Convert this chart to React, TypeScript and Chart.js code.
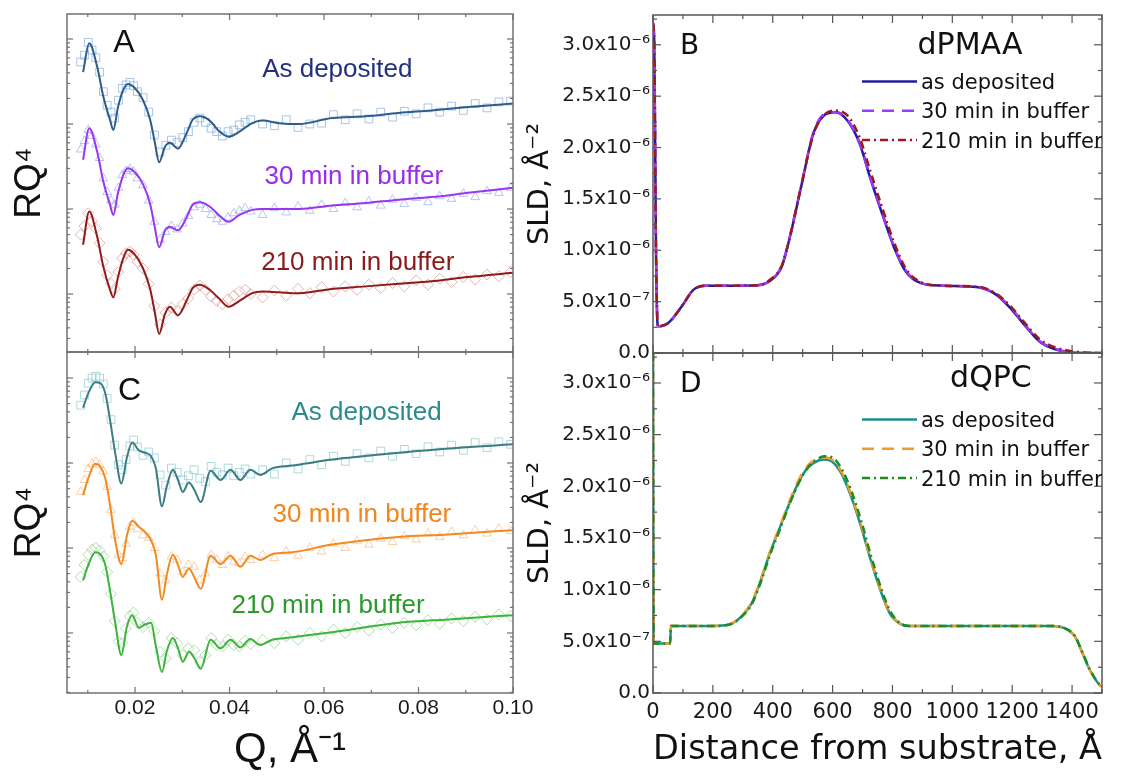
import React, { useEffect, useRef } from "react";
import { Chart, registerables } from "chart.js";
Chart.register(...registerables);

const W = 1121;
const H = 776;
const SANS = "'Liberation Sans', Arial, sans-serif";
const DEJAVU = "'DejaVu Sans', sans-serif";

// ---------------- Panels A / C : reflectivity (values stored as log10 of RQ^4, arbitrary units) ----------------
const qMeasured = [0.0085, 0.0093, 0.0101, 0.0109, 0.0117, 0.0125, 0.0133, 0.0141, 0.0149, 0.0157, 0.0165, 0.0173, 0.0181, 0.0189, 0.0197, 0.0205,
  0.0217, 0.0229, 0.0241, 0.0253, 0.0265, 0.0277, 0.0289, 0.0301, 0.0313, 0.0325, 0.0337, 0.0349, 0.0361, 0.0373, 0.0385, 0.0397, 0.0409, 0.0421, 0.0433, 0.0445,
  0.047, 0.0495, 0.052, 0.0545, 0.057, 0.0595, 0.062, 0.0645, 0.067, 0.0695, 0.072, 0.0745, 0.077, 0.0795, 0.082, 0.0845, 0.087, 0.0895, 0.092, 0.0945, 0.097, 0.0995];

const measA1Log = [2.73, 2.81, 2.96, 2.87, 2.78, 2.61, 2.38, 2.22, 2.14, 2.07, 2.28, 2.42, 2.46, 2.49, 2.45, 2.38, 2.31, 2.14, 1.87, 1.67, 1.75, 1.81, 1.78, 1.84, 1.91, 2.02, 2.07, 2.02, 1.95, 1.91, 1.86, 1.91, 1.93, 1.99, 2.02, 2.05, 2.00, 1.98, 2.05, 1.96, 2.00, 2.01, 2.11, 2.05, 2.12, 2.06, 2.14, 2.08, 2.15, 2.12, 2.19, 2.14, 2.21, 2.16, 2.24, 2.19, 2.26, 2.27];
const measA2Log = [1.70, 1.80, 1.93, 1.86, 1.76, 1.60, 1.36, 1.20, 1.10, 1.05, 1.25, 1.40, 1.45, 1.47, 1.44, 1.36, 1.28, 1.10, 0.85, 0.64, 0.73, 0.80, 0.76, 0.83, 0.92, 1.02, 1.05, 1.00, 0.93, 0.88, 0.85, 0.90, 0.95, 0.98, 1.01, 0.97, 0.93, 1.01, 0.96, 1.03, 0.98, 1.05, 1.00, 1.07, 1.02, 1.09, 1.04, 1.11, 1.06, 1.13, 1.08, 1.15, 1.12, 1.18, 1.14, 1.21, 1.19, 1.25];
const measA3Log = [0.70, 0.80, 0.95, 0.86, 0.77, 0.60, 0.38, 0.22, 0.12, 0.06, 0.26, 0.42, 0.48, 0.50, 0.46, 0.38, 0.30, 0.12, -0.14, -0.36, -0.22, -0.16, -0.20, -0.12, -0.05, 0.05, 0.10, 0.05, -0.03, -0.08, -0.12, -0.06, -0.02, 0.03, 0.05, 0.00, -0.04, 0.04, -0.02, 0.06, 0.01, 0.08, 0.03, 0.09, 0.05, 0.11, 0.07, 0.13, 0.09, 0.16, 0.11, 0.18, 0.14, 0.20, 0.17, 0.23, 0.21, 0.26];

const qFitA = [0.0090, 0.0103, 0.0120, 0.0133, 0.0147, 0.0154, 0.0164, 0.0175, 0.0185, 0.0200, 0.0217, 0.0232, 0.0242, 0.0251, 0.0263, 0.0274, 0.0291, 0.0309, 0.0322, 0.0337, 0.0358, 0.0379, 0.0398, 0.0421, 0.0448, 0.0469, 0.0505, 0.0547, 0.0617, 0.0688, 0.0758, 0.0827, 0.0905, 0.1000];
const fitA1Log = [2.61, 2.95, 2.67, 2.32, 2.05, 1.93, 2.20, 2.40, 2.47, 2.42, 2.28, 2.05, 1.78, 1.55, 1.73, 1.78, 1.71, 1.89, 2.05, 2.09, 2.04, 1.91, 1.85, 1.91, 2.01, 2.04, 2.01, 2.00, 2.07, 2.09, 2.13, 2.16, 2.20, 2.24];
const fitA2Log = [1.58, 1.95, 1.67, 1.32, 1.05, 0.93, 1.19, 1.40, 1.48, 1.43, 1.29, 1.06, 0.78, 0.55, 0.74, 0.79, 0.75, 0.90, 1.05, 1.08, 1.03, 0.92, 0.85, 0.93, 0.99, 1.00, 1.00, 1.00, 1.04, 1.07, 1.11, 1.14, 1.19, 1.25];
const fitA3Log = [0.58, 0.97, 0.67, 0.32, 0.05, -0.04, 0.20, 0.42, 0.52, 0.46, 0.30, 0.06, -0.22, -0.47, -0.24, -0.15, -0.25, -0.08, 0.07, 0.11, 0.05, -0.06, -0.15, -0.08, 0.01, 0.03, 0.02, 0.01, 0.06, 0.09, 0.12, 0.15, 0.20, 0.25];

const measC1Log = [2.68, 2.80, 2.94, 3.00, 3.02, 3.00, 2.93, 2.76, 2.51, 2.21, 1.98, 1.92, 2.04, 2.20, 2.27, 2.19, 2.09, 2.13, 2.06, 1.86, 1.74, 1.94, 1.89, 1.80, 1.85, 1.92, 1.82, 1.78, 1.96, 1.89, 1.86, 1.94, 1.85, 1.89, 1.93, 1.87, 1.92, 1.87, 2.00, 1.93, 2.04, 1.98, 2.08, 2.02, 2.11, 2.06, 2.14, 2.08, 2.16, 2.11, 2.19, 2.13, 2.21, 2.15, 2.24, 2.18, 2.25, 2.22];
const measC2Log = [1.66, 1.80, 1.93, 1.99, 2.01, 1.98, 1.90, 1.72, 1.45, 1.15, 0.92, 0.88, 1.05, 1.25, 1.30, 1.22, 1.15, 1.12, 1.00, 0.70, 0.62, 0.90, 0.86, 0.72, 0.80, 0.78, 0.62, 0.70, 0.92, 0.86, 0.80, 0.90, 0.84, 0.82, 0.90, 0.86, 0.92, 0.88, 0.96, 0.91, 1.00, 0.96, 1.05, 1.00, 1.08, 1.04, 1.11, 1.07, 1.14, 1.10, 1.17, 1.13, 1.19, 1.15, 1.21, 1.17, 1.23, 1.20];
const measC3Log = [0.66, 0.80, 0.92, 0.98, 1.00, 0.97, 0.90, 0.72, 0.46, 0.14, -0.10, -0.12, 0.05, 0.20, 0.24, 0.12, 0.07, 0.12, 0.02, -0.22, -0.30, -0.06, -0.12, -0.26, -0.18, -0.20, -0.34, -0.26, -0.06, -0.14, -0.16, -0.08, -0.14, -0.16, -0.09, -0.13, -0.08, -0.12, -0.04, -0.08, 0.00, -0.04, 0.04, 0.00, 0.07, 0.03, 0.10, 0.06, 0.12, 0.09, 0.15, 0.11, 0.17, 0.14, 0.19, 0.16, 0.22, 0.20];

const qFitC = [0.0090, 0.0101, 0.0116, 0.0126, 0.0137, 0.0147, 0.0158, 0.0171, 0.0183, 0.0194, 0.0208, 0.0221, 0.0234, 0.0244, 0.0257, 0.0267, 0.0280, 0.0291, 0.0301, 0.0314, 0.0326, 0.0339, 0.0360, 0.0381, 0.0402, 0.0423, 0.0444, 0.0465, 0.0491, 0.0533, 0.0617, 0.0758, 0.0863, 0.1000];
const fitC1Log = [2.65, 2.82, 2.95, 2.94, 2.82, 2.51, 2.12, 1.76, 2.07, 2.24, 2.15, 2.12, 2.08, 1.94, 1.49, 1.72, 1.92, 1.80, 1.66, 1.77, 1.68, 1.54, 1.91, 1.80, 1.92, 1.80, 1.92, 1.86, 1.94, 1.97, 2.04, 2.12, 2.17, 2.22];
const fitC2Log = [1.62, 1.82, 1.99, 1.96, 1.82, 1.51, 1.09, 0.81, 1.15, 1.32, 1.25, 1.19, 1.09, 0.92, 0.39, 0.68, 0.92, 0.80, 0.66, 0.76, 0.65, 0.52, 0.91, 0.81, 0.91, 0.78, 0.91, 0.86, 0.93, 0.95, 1.04, 1.13, 1.16, 1.21];
const fitC3Log = [0.62, 0.80, 0.95, 0.93, 0.80, 0.50, 0.12, -0.26, 0.08, 0.21, 0.06, 0.10, 0.12, -0.15, -0.46, -0.22, -0.06, -0.18, -0.34, -0.22, -0.30, -0.42, -0.08, -0.18, -0.08, -0.17, -0.07, -0.14, -0.08, -0.05, 0.01, 0.12, 0.16, 0.21];

// ---------------- Panels B / D : SLD profiles (values in units of 1e-6 Å^-2) ----------------
const zB = [0, 4, 10, 16, 50, 95, 135, 175, 250, 350, 390, 430, 455, 495, 535, 570, 610, 650, 690, 725, 765, 805, 845, 895, 970, 1085, 1140, 1190, 1240, 1290, 1330, 1385, 1440, 1500];
const sldB1 = [3.21, 3.05, 1.0, 0.26, 0.29, 0.45, 0.615, 0.654, 0.655, 0.66, 0.70, 0.84, 1.10, 1.62, 2.13, 2.31, 2.343, 2.26, 2.04, 1.71, 1.36, 1.03, 0.79, 0.68, 0.655, 0.64, 0.58, 0.45, 0.276, 0.114, 0.05, 0.01, 0.0, 0.0];
const sldB2 = [3.21, 3.05, 1.0, 0.26, 0.29, 0.45, 0.615, 0.654, 0.655, 0.66, 0.70, 0.85, 1.11, 1.63, 2.14, 2.32, 2.345, 2.27, 2.05, 1.72, 1.37, 1.04, 0.80, 0.68, 0.655, 0.64, 0.58, 0.46, 0.285, 0.12, 0.055, 0.012, 0.0, 0.0];
const sldB3 = [3.21, 3.05, 1.0, 0.26, 0.29, 0.45, 0.615, 0.654, 0.655, 0.66, 0.71, 0.85, 1.10, 1.62, 2.12, 2.31, 2.36, 2.31, 2.10, 1.78, 1.42, 1.08, 0.82, 0.69, 0.655, 0.645, 0.59, 0.47, 0.30, 0.14, 0.07, 0.025, 0.005, 0.0];

const zD = [0, 2, 5, 57, 60, 100, 200, 240, 265, 295, 330, 360, 390, 425, 455, 490, 520, 553, 572, 598, 630, 662, 695, 727, 759, 791, 823, 855, 1000, 1200, 1330, 1383, 1410, 1435, 1460, 1492, 1500];
const sldD1 = [3.29, 0.48, 0.48, 0.48, 0.648, 0.648, 0.648, 0.655, 0.674, 0.74, 0.87, 1.09, 1.35, 1.61, 1.83, 2.06, 2.19, 2.25, 2.26, 2.24, 2.12, 1.90, 1.61, 1.29, 1.00, 0.77, 0.674, 0.648, 0.648, 0.648, 0.648, 0.616, 0.545, 0.384, 0.22, 0.077, 0.06];
const sldD2 = [3.29, 0.48, 0.48, 0.48, 0.648, 0.648, 0.648, 0.655, 0.675, 0.745, 0.88, 1.10, 1.36, 1.62, 1.85, 2.08, 2.21, 2.27, 2.28, 2.26, 2.14, 1.92, 1.63, 1.30, 1.01, 0.78, 0.676, 0.648, 0.648, 0.648, 0.648, 0.616, 0.545, 0.385, 0.222, 0.078, 0.06];
const sldD3 = [3.29, 0.48, 0.48, 0.48, 0.648, 0.648, 0.648, 0.655, 0.672, 0.735, 0.86, 1.07, 1.33, 1.59, 1.82, 2.05, 2.19, 2.27, 2.29, 2.28, 2.17, 1.96, 1.67, 1.34, 1.04, 0.80, 0.68, 0.649, 0.648, 0.648, 0.648, 0.618, 0.55, 0.39, 0.225, 0.08, 0.062];

// ---------------- Tick labels / series labels ----------------
const qTicks = [0.02, 0.04, 0.06, 0.08, 0.1];
const distTicks = [0, 200, 400, 600, 800, 1000, 1200, 1400];
const sldTicks = [0, 0.5e-6, 1.0e-6, 1.5e-6, 2.0e-6, 2.5e-6, 3.0e-6];
const seriesNames = ["as deposited", "30 min in buffer", "210 min in buffer"];
const reflNames = ["As deposited", "30 min in buffer", "210 min in buffer"];

const SLD_UNIT = 1e-6;
const SUP: Record<string, string> = { "-": "⁻", "0": "⁰", "1": "¹", "2": "²", "3": "³", "4": "⁴", "5": "⁵", "6": "⁶", "7": "⁷", "8": "⁸", "9": "⁹" };
const sup = (n: number) => String(n).split("").map((c) => SUP[c] ?? c).join("");
function sciLabel(v: number) {
  if (Math.abs(v) < 1e-15) return "0.0";
  const e = Math.floor(Math.log10(v) + 1e-9);
  return `${(v / Math.pow(10, e)).toFixed(1)}x10${sup(e)}`;
}
const pts = (xs: number[], ys: number[], f: (v: number) => number) => xs.map((x, i) => ({ x, y: f(ys[i]) }));
const fromLog = (v: number) => Math.pow(10, v);
const fromUnit = (v: number) => v * SLD_UNIT;

// ---------------- Plugins ----------------
const frameTicks = {
  id: "frameTicks",
  afterDatasetsDraw(chart: any, _a: any, o: any) {
    const { ctx, chartArea: a, scales } = chart;
    const xs = scales.x;
    const ys = scales.y;
    ctx.save();
    ctx.strokeStyle = o.color;
    ctx.lineWidth = 1.5;
    ctx.strokeRect(a.left, a.top, a.right - a.left, a.bottom - a.top);
    ctx.lineWidth = 1.2;
    const seg = (x1: number, y1: number, x2: number, y2: number) => {
      ctx.beginPath();
      ctx.moveTo(x1, y1);
      ctx.lineTo(x2, y2);
      ctx.stroke();
    };
    const n0 = Math.ceil(xs.min / o.xMinor - 1e-6);
    const n1 = Math.floor(xs.max / o.xMinor + 1e-6);
    const rx = Math.round(o.xMajor / o.xMinor);
    for (let i = n0; i <= n1; i++) {
      const px = xs.getPixelForValue(i * o.xMinor);
      const len = i % rx === 0 ? o.major : o.minor;
      seg(px, a.bottom, px, a.bottom - len);
      seg(px, a.top, px, a.top + len);
    }
    if (o.yLog) {
      const d0 = Math.floor(Math.log10(ys.min));
      const d1 = Math.ceil(Math.log10(ys.max));
      for (let d = d0; d <= d1; d++) {
        for (let k = 1; k <= 9; k++) {
          const v = k * Math.pow(10, d);
          if (v < ys.min || v > ys.max) continue;
          const py = ys.getPixelForValue(v);
          const len = k === 1 ? o.major : o.minor;
          seg(a.left, py, a.left + len, py);
          seg(a.right, py, a.right - len, py);
        }
      }
    } else {
      const m0 = Math.ceil(ys.min / o.yMinor - 1e-6);
      const m1 = Math.floor(ys.max / o.yMinor + 1e-6);
      const ry = Math.round(o.yMajor / o.yMinor);
      for (let i = m0; i <= m1; i++) {
        const py = ys.getPixelForValue(i * o.yMinor);
        const len = i % ry === 0 ? o.major : o.minor;
        seg(a.left, py, a.left + len, py);
        seg(a.right, py, a.right - len, py);
      }
    }
    ctx.restore();
  },
};

const panelText = {
  id: "panelText",
  afterDatasetsDraw(chart: any, _a: any, o: any) {
    const { ctx, scales } = chart;
    ctx.save();
    for (const it of o.items) {
      ctx.font = it.css;
      ctx.fillStyle = it.color;
      ctx.textAlign = it.align || "left";
      ctx.textBaseline = "alphabetic";
      ctx.fillText(it.text, scales.x.getPixelForValue(it.x), scales.y.getPixelForValue(it.y));
    }
    ctx.restore();
  },
};

const lineLegend = {
  id: "lineLegend",
  afterDatasetsDraw(chart: any, _a: any, o: any) {
    if (!o || !o.show) return;
    const { ctx, chartArea: a } = chart;
    ctx.save();
    ctx.beginPath();
    ctx.rect(a.left, a.top, a.right - a.left, a.bottom - a.top);
    ctx.clip();
    chart.data.datasets.forEach((ds: any, i: number) => {
      const yy = a.top + o.dy + i * o.rowGap;
      const x0 = a.left + o.dx;
      ctx.strokeStyle = ds.borderColor;
      ctx.lineWidth = ds.borderWidth;
      ctx.setLineDash(ds.borderDash || []);
      ctx.beginPath();
      ctx.moveTo(x0, yy);
      ctx.lineTo(x0 + o.sampleLen, yy);
      ctx.stroke();
      ctx.setLineDash([]);
      ctx.fillStyle = o.color;
      ctx.font = o.css;
      ctx.textAlign = "left";
      ctx.textBaseline = "alphabetic";
      ctx.fillText(ds.label, x0 + o.sampleLen + o.gap, yy + o.baseShift);
    });
    ctx.restore();
  },
};

// ---------------- Chart builders ----------------
type ReflSeries = { fit: number[]; meas: number[]; line: string; marker: string; style: string; radius: number };

function reflConfig(top: boolean, qFit: number[], series: ReflSeries[], yMinLog: number, yMaxLog: number, texts: any[]) {
  const datasets: any[] = [];
  series.forEach((s, i) => {
    datasets.push({
      label: reflNames[i] + " (fit)",
      data: pts(qFit, s.fit, fromLog),
      borderColor: s.line,
      borderWidth: 2,
      pointRadius: 0,
      cubicInterpolationMode: "monotone",
      fill: false,
      order: 0,
    });
  });
  series.forEach((s, i) => {
    datasets.push({
      label: reflNames[i],
      data: pts(qMeasured, s.meas, fromLog),
      showLine: false,
      borderColor: s.marker,
      backgroundColor: "rgba(0,0,0,0)",
      pointStyle: s.style,
      pointRadius: s.radius,
      pointBorderWidth: 1,
      pointBorderColor: s.marker,
      pointBackgroundColor: "rgba(0,0,0,0)",
      order: 1,
    });
  });
  return {
    type: "line",
    data: { datasets },
    options: {
      responsive: false,
      animation: false,
      devicePixelRatio: 1,
      events: [],
      layout: { padding: top ? { left: 0, top: 14, right: W - 513, bottom: H - 352 } : { left: 0, top: 352, right: W - 513, bottom: 0 } },
      scales: {
        x: {
          type: "linear",
          min: 0.0056,
          max: 0.1,
          grid: { display: false, drawTicks: false },
          border: { display: false },
          afterBuildTicks: (s: any) => {
            s.ticks = qTicks.map((v) => ({ value: v }));
          },
          ticks: {
            display: !top,
            padding: 3,
            autoSkip: false,
            maxRotation: 0,
            color: "#1a1a1a",
            font: { family: SANS, size: 21 },
            callback: (v: any) => Number(v).toFixed(2),
          },
          title: { display: !top, text: "Q, Å⁻¹", color: "#111", font: { family: SANS, size: 42 }, padding: { top: 0, bottom: 0 } },
          afterFit: (s: any) => {
            s.height = top ? 0 : H - 693;
          },
        },
        y: {
          type: "logarithmic",
          min: Math.pow(10, yMinLog),
          max: Math.pow(10, yMaxLog),
          grid: { display: false, drawTicks: false },
          border: { display: false },
          ticks: { display: false },
          title: { display: true, text: "RQ⁴", color: "#111", font: { family: SANS, size: 37 }, padding: { top: 8, bottom: 0 } },
          afterFit: (s: any) => {
            s.width = 67;
          },
        },
      },
      plugins: {
        legend: { display: false },
        tooltip: { enabled: false },
        frameTicks: { color: "#707070", xMinor: 0.01, xMajor: 0.02, yLog: true, major: 6, minor: 3 },
        panelText: { items: texts },
      },
    },
    plugins: [frameTicks, panelText],
  };
}

type SldSeries = { vals: number[]; color: string; dash: number[]; order: number };

function sldConfig(top: boolean, z: number[], series: SldSeries[], texts: any[]) {
  const datasets = series.map((s, i) => ({
    label: seriesNames[i],
    data: pts(z, s.vals, fromUnit),
    borderColor: s.color,
    borderWidth: 2.5,
    borderDash: s.dash,
    pointRadius: 0,
    cubicInterpolationMode: "monotone",
    fill: false,
    order: s.order,
  }));
  return {
    type: "line",
    data: { datasets },
    options: {
      responsive: false,
      animation: false,
      devicePixelRatio: 1,
      events: [],
      layout: { padding: top ? { left: 520, top: 14, right: W - 1102, bottom: H - 353 } : { left: 520, top: 353, right: W - 1102, bottom: 0 } },
      scales: {
        x: {
          type: "linear",
          min: 0,
          max: 1500,
          grid: { display: false, drawTicks: false },
          border: { display: false },
          afterBuildTicks: (s: any) => {
            s.ticks = distTicks.map((v) => ({ value: v }));
          },
          ticks: {
            display: !top,
            padding: 7,
            autoSkip: false,
            maxRotation: 0,
            color: "#1a1a1a",
            font: { family: DEJAVU, size: 21 },
            callback: (v: any) => String(Math.round(Number(v))),
          },
          title: { display: !top, text: "Distance from substrate, Å", align: "center", color: "#111", font: { family: DEJAVU, size: 34 }, padding: { top: 0, bottom: 5 } },
          afterFit: (s: any) => {
            s.height = top ? 0 : H - 693;
          },
        },
        y: {
          type: "linear",
          min: 0,
          max: 3.29e-6,
          grid: { display: false, drawTicks: false },
          border: { display: false },
          afterBuildTicks: (s: any) => {
            s.ticks = sldTicks.map((v) => ({ value: v }));
          },
          ticks: { padding: 3, autoSkip: false, color: "#1a1a1a", font: { family: DEJAVU, size: 20 }, callback: (v: any) => sciLabel(Number(v)) },
          title: { display: true, text: "SLD, Å⁻²", color: "#111", font: { family: DEJAVU, size: 29 }, padding: { top: 3, bottom: 0 } },
          afterFit: (s: any) => {
            s.width = 653 - 520;
          },
        },
      },
      plugins: {
        legend: { display: false },
        tooltip: { enabled: false },
        frameTicks: { color: "#555555", xMinor: 100, xMajor: 200, yMinor: 0.25e-6, yMajor: 0.5e-6, yLog: false, major: 8, minor: 4 },
        panelText: { items: texts },
        lineLegend: { show: true, dx: 209, dy: 66.5, rowGap: 29.3, sampleLen: 55, gap: 4, baseShift: 7.5, color: "#111", css: `21px ${DEJAVU}` },
      },
    },
    plugins: [frameTicks, panelText, lineLegend],
  };
}

const makeA = () =>
  reflConfig(
    true,
    qFitA,
    [
      { fit: fitA1Log, meas: measA1Log, line: "#2e5d8a", marker: "rgba(110,160,215,0.6)", style: "rect", radius: 5.5 },
      { fit: fitA2Log, meas: measA2Log, line: "#9b35ee", marker: "rgba(130,160,240,0.6)", style: "triangle", radius: 5 },
      { fit: fitA3Log, meas: measA3Log, line: "#8c1c1c", marker: "rgba(215,115,115,0.55)", style: "rectRot", radius: 5.5 },
    ],
    -0.682,
    3.294,
    [
      { text: "A", x: 0.0154, y: fromLog(2.85), color: "#111", css: `32px ${SANS}` },
      { text: "As deposited", x: 0.0469, y: fromLog(2.55), color: "#22307f", css: `26px ${SANS}` },
      { text: "30 min in buffer", x: 0.0474, y: fromLog(1.29), color: "#9a2be6", css: `26px ${SANS}` },
      { text: "210 min in buffer", x: 0.0467, y: fromLog(0.28), color: "#8b1a1a", css: `26px ${SANS}` },
    ]
  );

const makeC = () =>
  reflConfig(
    false,
    qFitC,
    [
      { fit: fitC1Log, meas: measC1Log, line: "#3c7c84", marker: "rgba(110,185,195,0.55)", style: "rect", radius: 5.5 },
      { fit: fitC2Log, meas: measC2Log, line: "#f28a22", marker: "rgba(245,170,100,0.55)", style: "triangle", radius: 5 },
      { fit: fitC3Log, meas: measC3Log, line: "#3cb43c", marker: "rgba(110,195,110,0.55)", style: "rectRot", radius: 5.5 },
    ],
    -0.706,
    3.306,
    [
      { text: "C", x: 0.0164, y: fromLog(2.74), color: "#111", css: `32px ${SANS}` },
      { text: "As deposited", x: 0.0531, y: fromLog(2.51), color: "#2a8a8c", css: `26px ${SANS}` },
      { text: "30 min in buffer", x: 0.0491, y: fromLog(1.31), color: "#f0861e", css: `26px ${SANS}` },
      { text: "210 min in buffer", x: 0.0404, y: fromLog(0.24), color: "#2a9a2a", css: `26px ${SANS}` },
    ]
  );

const makeB = () =>
  sldConfig(
    true,
    zB,
    [
      { vals: sldB1, color: "#1c1ca6", dash: [], order: 3 },
      { vals: sldB2, color: "#9a3cff", dash: [12, 8], order: 2 },
      { vals: sldB3, color: "#a01818", dash: [8, 4, 2, 4], order: 1 },
    ],
    [
      { text: "B", x: 90, y: 2.91e-6, color: "#111", css: `28px ${DEJAVU}` },
      { text: "dPMAA", x: 1059, y: 2.91e-6, color: "#111", css: `30px ${DEJAVU}`, align: "center" },
    ]
  );

const makeD = () =>
  sldConfig(
    false,
    zD,
    [
      { vals: sldD1, color: "#17918f", dash: [], order: 3 },
      { vals: sldD2, color: "#f59a2a", dash: [12, 8], order: 2 },
      { vals: sldD3, color: "#1e8c1e", dash: [8, 4, 2, 4], order: 1 },
    ],
    [
      { text: "D", x: 90, y: 2.91e-6, color: "#111", css: `28px ${DEJAVU}` },
      { text: "dQPC", x: 1129, y: 2.96e-6, color: "#111", css: `30px ${DEJAVU}`, align: "center" },
    ]
  );

function ChartLayer({ make }: { make: () => any }) {
  const ref = useRef<HTMLCanvasElement | null>(null);
  useEffect(() => {
    if (!ref.current) return;
    const chart = new Chart(ref.current, make());
    return () => chart.destroy();
  }, [make]);
  return <canvas ref={ref} width={W} height={H} style={{ position: "absolute", left: 0, top: 0, width: W, height: H }} />;
}

export default function App() {
  return (
    <div style={{ position: "absolute", left: 0, top: 0, width: W, height: H, background: "#ffffff", overflow: "hidden" }}>
      <ChartLayer make={makeA} />
      <ChartLayer make={makeC} />
      <ChartLayer make={makeB} />
      <ChartLayer make={makeD} />
    </div>
  );
}
